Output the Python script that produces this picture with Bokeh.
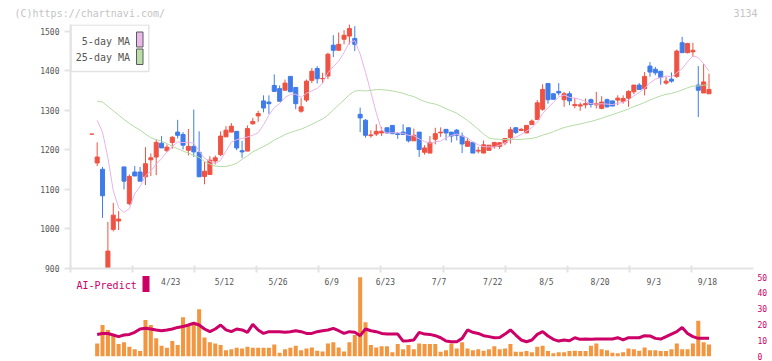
from bokeh.plotting import figure
from bokeh.models import Range1d, FixedTicker, LinearAxis
from bokeh.layouts import column
from bokeh.embed import file_html
from bokeh.resources import INLINE
from bokeh.core.properties import value

# ---------------- data ----------------
dates = ["4/23", "5/12", "5/26", "6/9", "6/23", "7/7", "7/22", "8/5", "8/20", "9/3", "9/18"]
date_idx = [15, 25, 35, 45, 55, 65, 75, 85, 95, 105, 115]

opens = [1240, 1167, 1151, 893, 999, 1020, 1157, 1064, 1144, 1144,
         1132, 1175, 1182, 1217, 1198, 1219, 1245, 1239, 1199, 1209,
         1194, 1133, 1138, 1172, 1188, 1233, 1245, 1247, 1198, 1197,
         1266, 1286, 1324, 1321, 1363, 1355, 1351, 1386, 1358, 1298,
         1326, 1376, 1406, 1380, 1387, 1465, 1452, 1480, 1488, 1482,
         1290, 1275, 1236, 1240, 1243, 1256, 1262, 1241, 1245, 1256,
         1223, 1245, 1194, 1192, 1227, 1243, 1252, 1245, 1250, 1235,
         1209, 1219, 1197, 1192, 1199, 1208, 1209, 1218, 1231, 1256,
         1249, 1243, 1264, 1277, 1303, 1368, 1342, 1348, 1327, 1342,
         1312, 1311, 1314, 1327, 1314, 1305, 1327, 1324, 1326, 1323,
         1331, 1347, 1364, 1355, 1412, 1404, 1399, 1369, 1379, 1386,
         1471, 1446, 1448, 1364, 1344, 1342]
highs = [1240, 1219, 1157, 1018, 1066, 1045, 1157, 1138, 1159, 1157,
         1207, 1191, 1227, 1235, 1214, 1235, 1276, 1245, 1253, 1302,
         1247, 1170, 1184, 1186, 1247, 1260, 1268, 1247, 1223, 1262,
         1281, 1299, 1338, 1338, 1391, 1363, 1378, 1386, 1358, 1331,
         1378, 1407, 1412, 1395, 1446, 1490, 1497, 1503, 1518, 1513,
         1307, 1278, 1250, 1265, 1258, 1256, 1262, 1245, 1265, 1257,
         1254, 1245, 1212, 1235, 1256, 1257, 1252, 1245, 1253, 1244,
         1230, 1219, 1208, 1224, 1212, 1219, 1220, 1229, 1258, 1258,
         1256, 1262, 1277, 1326, 1366, 1368, 1342, 1369, 1347, 1348,
         1332, 1320, 1330, 1330, 1347, 1336, 1330, 1324, 1338, 1338,
         1351, 1364, 1369, 1397, 1422, 1410, 1399, 1385, 1396, 1454,
         1486, 1471, 1471, 1412, 1417, 1393]
lows = [1240, 1159, 1028, 880, 994, 997, 1100, 1060, 1134, 1121,
        1111, 1134, 1136, 1205, 1194, 1203, 1229, 1201, 1186, 1182,
        1132, 1113, 1138, 1163, 1184, 1233, 1245, 1199, 1180, 1197,
        1264, 1271, 1295, 1291, 1348, 1323, 1351, 1347, 1303, 1294,
        1321, 1369, 1368, 1368, 1379, 1435, 1452, 1467, 1467, 1450,
        1245, 1231, 1231, 1235, 1235, 1241, 1240, 1228, 1239, 1219,
        1223, 1182, 1188, 1192, 1214, 1233, 1224, 1219, 1224, 1192,
        1209, 1192, 1191, 1192, 1199, 1203, 1202, 1212, 1216, 1240,
        1248, 1243, 1264, 1277, 1299, 1317, 1328, 1338, 1309, 1313,
        1305, 1299, 1305, 1307, 1305, 1303, 1307, 1311, 1313, 1317,
        1309, 1341, 1353, 1338, 1385, 1389, 1365, 1365, 1370, 1382,
        1446, 1444, 1435, 1283, 1344, 1342]
closes = [1240, 1182, 1084, 944, 1035, 1025, 1121, 1133, 1134, 1121,
          1165, 1180, 1219, 1205, 1207, 1232, 1237, 1212, 1209, 1195,
          1132, 1146, 1174, 1180, 1235, 1250, 1260, 1205, 1195, 1254,
          1272, 1292, 1306, 1317, 1348, 1323, 1369, 1347, 1317, 1309,
          1374, 1399, 1380, 1381, 1442, 1452, 1467, 1490, 1507, 1467,
          1281, 1237, 1238, 1247, 1247, 1243, 1241, 1239, 1239, 1223,
          1237, 1201, 1205, 1219, 1241, 1245, 1243, 1235, 1237, 1215,
          1222, 1192, 1199, 1213, 1212, 1219, 1218, 1229, 1251, 1244,
          1252, 1262, 1273, 1319, 1353, 1327, 1328, 1344, 1342, 1324,
          1315, 1314, 1317, 1315, 1317, 1321, 1309, 1311, 1331, 1330,
          1348, 1364, 1353, 1386, 1397, 1395, 1383, 1374, 1374, 1450,
          1446, 1469, 1452, 1351, 1372, 1353]

# lower panel, days 1..115
volume = [8.2, 19.8, 16.7, 13.5, 7.8, 8.9, 6.1, 4.5, 3.4, 23.0,
          19.8, 11.4, 6.8, 5.5, 9.7, 7.2, 24.7, 19.8, 20.9, 29.7,
          12.0, 8.9, 8.2, 7.2, 4.0, 4.5, 5.5, 5.1, 6.1, 5.5,
          5.5, 5.5, 5.5, 7.6, 2.4, 4.5, 5.5, 6.8,
          4.0, 5.1, 5.7, 3.6, 3.2, 8.2, 8.9, 5.7, 3.2, 8.9,
          13.5, 49.9, 21.5, 7.2, 5.7, 6.4, 6.4, 2.6, 7.8, 4.5,
          7.2, 4.5, 8.2, 7.8, 7.8, 7.8, 3.0, 4.0, 8.2, 5.1,
          8.9, 5.1, 4.0, 4.5, 3.6, 4.5, 6.4, 4.5, 5.1, 7.8,
          3.0, 3.0, 3.4, 2.6, 6.1, 6.8, 3.4, 2.1, 2.6, 2.6,
          3.4, 3.6, 3.4, 3.4, 6.8, 8.2, 4.5, 4.0, 2.4, 2.1,
          2.6, 5.1, 4.5, 3.6, 5.7, 4.0, 4.0, 3.4, 3.4, 4.5,
          8.2, 4.5, 4.5, 8.2, 22.5, 8.9, 7.6]
ai_predict = [13.9, 14.5, 14.5, 13.5, 12.5, 13.5, 13.9, 15.2, 17.3, 17.7,
              17.3, 16.7, 16.2, 16.7, 17.3, 18.3, 18.8, 19.8, 20.9, 19.8,
              17.3, 15.6, 17.3, 19.8, 16.7, 15.6, 17.3, 16.7, 15.2, 20.2,
              16.7, 14.5, 15.6, 15.6, 15.6, 15.2, 15.6, 16.2,
              15.6, 14.5, 14.5, 15.6, 16.2, 16.7, 17.7, 16.2, 14.5, 15.6,
              15.2, 13.1, 17.3, 16.2, 15.6, 14.5, 14.1, 14.1, 14.1, 9.7,
              9.9, 10.4, 15.2, 14.1, 13.9, 13.1, 11.8, 9.7, 9.3, 9.3,
              11.4, 16.7, 15.2, 14.5, 13.1, 12.5, 11.8, 12.0, 14.1, 16.7,
              13.5, 10.4, 9.3, 10.4, 13.9, 15.6, 12.9, 10.8, 9.7, 10.4,
              9.9, 11.8, 10.8, 11.0, 10.8, 11.0, 11.0, 11.0, 11.0, 11.8,
              10.4, 11.8, 11.8, 11.8, 13.1, 12.9, 11.4, 11.0, 12.5, 14.1,
              15.6, 18.3, 14.5, 12.5, 11.4, 11.4, 11.4]

# moving averages: first points need history before the chart ->
ma5_head = [1275, 1245, 1180]                     # days 1..3
ma25_head = [1323, 1321, 1310, 1299, 1288, 1277, 1267, 1258, 1250, 1240,
             1231, 1226, 1222, 1216, 1209, 1203, 1197, 1192, 1186, 1181,
             1171, 1164, 1159]                    # days 1..23

y_ticks = [900, 1000, 1100, 1200, 1300, 1400, 1500]
vol_ticks = [0, 10, 20, 30, 40, 50]

# ---------------- derived ----------------
n = len(closes)
idx = list(range(n))
ma5 = ma5_head + [sum(closes[i - 4:i + 1]) / 5 for i in range(4, n)]
ma25 = ma25_head + [sum(closes[i - 24:i + 1]) / 25 for i in range(24, n)]
line_x = list(range(1, n))

FONT = "DejaVu Sans Mono"
RED = "#ef5242"
BLUE = "#3f7be9"
PINK = "#e9b3e9"
GREEN = "#b5dba5"
ORANGE = "#f3963f"
CRIMSON = "#cc0066"
AXIS = "#e3e3e3"
TXT = "#555555"

# frame geometry (page pixels)
HEAD = 24
FX0, FW = 70, 683
FYT, FYB = HEAD, 268
X0 = (FX0 - 91.3) / 5.367
X1 = X0 + FW / 5.367
Y0 = 900
Y1 = 900 + (FYB - FYT) / 0.3953


def px2x(px):
    return X0 + (px - FX0) * (X1 - X0) / FW


def py2y(py):
    return Y0 + (FYB - py) * (Y1 - Y0) / (FYB - FYT)


# ---------------- header strip ----------------
h = figure(frame_width=768, frame_height=HEAD, x_range=Range1d(0, 768), y_range=Range1d(HEAD, 0),
           output_backend="svg", toolbar_location=None, title=None,
           x_axis_location=None, y_axis_location=None,
           min_border_left=0, min_border_right=0, min_border_top=0, min_border_bottom=0)
h.xgrid.visible = False
h.ygrid.visible = False
h.outline_line_color = None
h.text(x=[14, 757], y=[12.8, 12.8], text=["(C)https://chartnavi.com/", "3134"],
       text_font=value(FONT), text_font_size="10px", text_color="#c4c4c4",
       text_align=["left", "right"], text_baseline="middle")

# ---------------- main price panel ----------------
xr = Range1d(X0, X1)
p = figure(frame_width=FW, frame_height=FYB - FYT, x_range=xr, y_range=Range1d(Y0, Y1),
           output_backend="svg", toolbar_location=None, title=None,
           min_border_left=FX0, min_border_right=16, min_border_top=0, min_border_bottom=5)
p.xgrid.visible = False
p.ygrid.visible = False
p.outline_line_color = None

ya = p.yaxis[0]
ya.ticker = FixedTicker(ticks=y_ticks)
ya.axis_line_color = AXIS
ya.axis_line_width = 2
ya.major_tick_line_color = AXIS
ya.major_tick_line_width = 2
ya.major_tick_in = 0
ya.major_tick_out = 6
ya.minor_tick_line_color = None
ya.major_label_standoff = 5
ya.major_label_text_font = FONT
ya.major_label_text_font_size = "8px"
ya.major_label_text_color = TXT

xa = p.xaxis[0]
xa.ticker = FixedTicker(ticks=[], minor_ticks=[X0 + k * (X1 - X0) / 11 for k in range(12)])
xa.axis_line_color = AXIS
xa.axis_line_width = 2
xa.major_tick_line_color = None
xa.minor_tick_line_color = AXIS
xa.minor_tick_line_width = 2
xa.minor_tick_in = 3
xa.minor_tick_out = 4
xa.major_label_standoff = 0

colors = [RED if c >= o else BLUE for o, c in zip(opens, closes)]
tops = [max(o, c) for o, c in zip(opens, closes)]
bots = [min(o, c) for o, c in zip(opens, closes)]
p.segment(x0=idx, y0=lows, x1=idx, y1=highs, color=colors, line_width=1)
p.vbar(x=idx, width=0.75, top=tops, bottom=bots, fill_color=colors, line_color=colors, line_width=1)

p.line(line_x, ma5[:len(line_x)], color=PINK, line_width=1)
p.line(line_x, ma25[:len(line_x)], color=GREEN, line_width=1)

# legend (manual: text then swatch)
p.quad(left=[px2x(70.5)], right=[px2x(148.3)], top=[py2y(24.5)], bottom=[py2y(71)],
       fill_color="white", line_color=AXIS, line_width=1.5)
p.quad(left=[px2x(136)] * 2, right=[px2x(142.5)] * 2,
       top=[py2y(31.5), py2y(48.5)], bottom=[py2y(46.5), py2y(64)],
       fill_color=["#ebb8eb", "#b9deaa"], line_color="#5a5a5a", line_width=1)
p.text(x=[px2x(129.5)] * 2, y=[py2y(40.5), py2y(56.8)], text=["5-day MA", "25-day MA"],
       text_font=value(FONT), text_font_size="10px", text_color=TXT,
       text_align="right", text_baseline="middle")

# ---------------- lower panel ----------------
VB, VT = 356, 273
q = figure(frame_width=FW, frame_height=VB - VT, x_range=xr, y_range=Range1d(0, (VB - VT) / 1.59),
           output_backend="svg", toolbar_location=None, title=None,
           x_axis_location=None, y_axis_location=None,
           min_border_left=FX0, min_border_right=16, min_border_top=0, min_border_bottom=5)
q.xgrid.visible = False
q.ygrid.visible = False
q.outline_line_color = None

ra = LinearAxis(ticker=FixedTicker(ticks=vol_ticks), axis_line_color=None,
                major_tick_line_color=None, minor_tick_line_color=None,
                major_tick_in=0, major_tick_out=0,
                major_label_standoff=4, major_label_text_font=FONT,
                major_label_text_font_size="8px", major_label_text_color=CRIMSON)
q.add_layout(ra, "right")

q.vbar(x=line_x, top=volume, width=0.75, fill_color=ORANGE, line_color=None)
q.line(line_x, ai_predict, color=CRIMSON, line_width=3)

q.text(x=[d - 0.3 for d in date_idx], y=[46.7] * len(dates), text=dates,
       text_font=value(FONT), text_font_size="8px", text_color=TXT,
       text_align="center", text_baseline="middle")
q.text(x=[px2x(76)], y=[44.9], text=["AI-Predict"], text_font=value(FONT),
       text_font_size="10px", text_color=CRIMSON, text_align="left", text_baseline="middle")
q.quad(left=[px2x(142)], right=[px2x(149)], top=[50.7], bottom=[40.6],
       fill_color=CRIMSON, line_color=None)

layout = column(h, column(p, q))
open("out.html", "w").write(file_html(layout, INLINE))
